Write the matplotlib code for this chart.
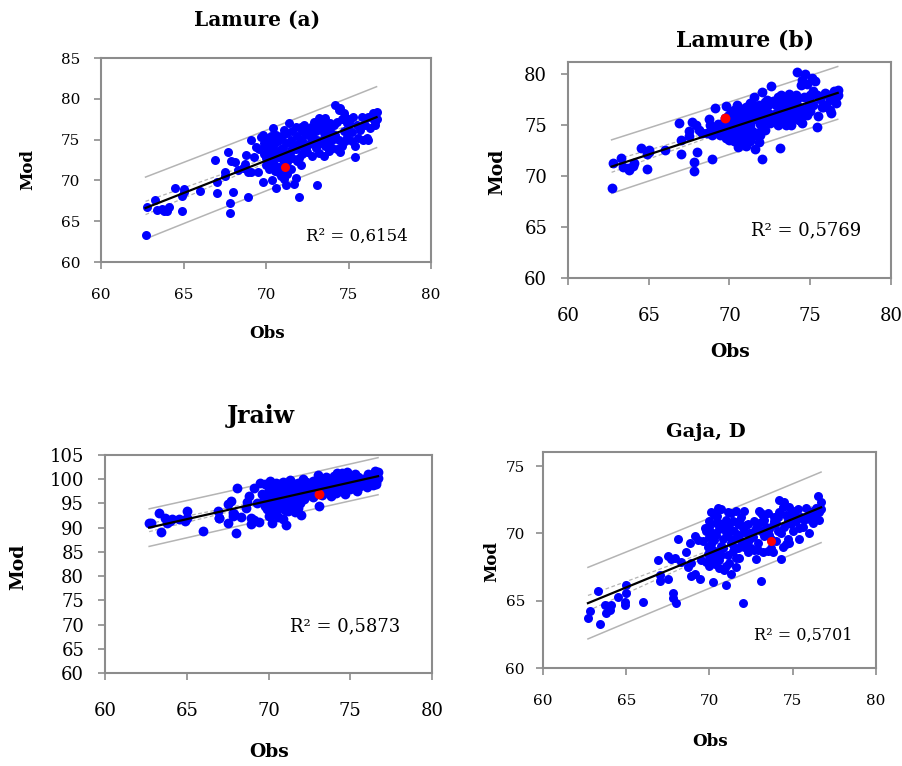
import numpy as np
import matplotlib
matplotlib.use("Agg")
import matplotlib.pyplot as plt

plt.rcParams['font.family'] = 'DejaVu Serif'

# observed values (shared by the four panels)
obs = [62.7, 62.8, 63.3, 63.4, 63.7, 63.8, 64.0, 64.1, 64.5, 64.9, 64.9, 65.0, 65.0, 66.0,
       66.9, 67.0, 67.0, 67.5, 67.5, 67.7, 67.8, 67.8, 68.0, 67.9, 68.1, 68.3, 68.6, 68.7,
       68.8, 68.9, 68.9, 69.1, 69.1, 69.4, 69.3, 69.5,
       69.6, 69.7, 69.8, 69.8, 69.9, 69.9, 70.0, 70.0, 70.0, 70.1, 70.1, 70.2, 70.2, 70.2,
       70.3, 70.3, 70.35, 70.4, 70.4, 70.45, 70.5, 70.5, 70.55, 70.6, 70.6, 70.7, 70.7, 70.8,
       70.8, 70.9, 70.9, 71.0, 71.0, 71.0, 71.1, 71.1, 71.2, 71.2, 71.3, 71.3, 71.4, 71.4,
       71.5, 71.5, 71.6, 71.6, 71.7, 71.7, 71.8, 71.8, 71.9, 71.9, 72.0, 72.0, 72.1, 72.1,
       72.2, 72.2, 72.3, 72.3, 72.4, 72.5,
       72.6, 72.6, 72.7, 72.8, 72.8, 72.9, 73.0, 73.0, 73.1, 73.1, 73.2, 73.2, 73.3, 73.3,
       73.4, 73.5, 73.5, 73.6, 73.6, 73.7, 73.8, 73.8, 73.9, 74.0, 74.0, 74.1, 74.2, 74.2,
       74.3, 74.4, 74.4, 74.5, 74.5, 74.6, 74.7, 74.7, 74.8, 74.8, 74.9, 75.0, 75.0, 75.1,
       75.2, 75.3, 75.4, 75.4, 75.5, 75.6, 75.8, 75.9, 76.0, 76.1, 76.2, 76.3, 76.4, 76.5,
       76.6, 76.7, 76.7,
       70.0, 70.1, 70.3, 70.4, 70.6, 70.7, 70.9, 71.0, 71.1, 71.3, 71.5, 71.6, 71.8, 72.0,
       72.2, 72.4, 72.7, 72.9, 73.1, 73.4, 73.7, 73.9, 74.1, 74.3, 74.6, 74.9, 75.2, 75.7,
       76.2, 76.6]

# modelled values, Lamure (a)
mod_a = [63.3, 66.8, 67.6, 66.4, 66.5, 66.2, 66.3, 66.8, 69.1, 68.1, 66.2, 68.9, 68.6, 68.7,
         72.5, 69.8, 68.4, 71.0, 70.6, 73.5, 67.2, 66.0, 68.6, 72.4, 72.2, 71.3, 71.5, 72.0,
         73.1, 68.0, 71.0, 74.9, 71.0, 74.1, 72.9, 71.0,
         73.8, 75.3, 69.8, 75.6, 74.6, 73.2, 72.8, 74.2, 71.9, 75.2, 73.5, 72.3, 74.8, 71.4,
         73.9, 72.6, 70.0, 75.0, 73.0, 76.4, 72.0, 74.4, 71.2, 69.1, 73.6, 72.9, 74.8, 71.6,
         73.3, 75.2, 70.6, 72.5, 74.0, 75.6, 70.2, 73.4, 69.4, 74.6, 72.2, 75.8, 77.0, 73.1,
         71.4, 74.9, 72.7, 76.0, 69.6, 74.3, 70.3, 73.8, 75.4, 72.4, 68.0, 74.6, 71.9, 76.5,
         73.2, 75.0, 76.8, 74.0, 75.7, 73.5,
         76.2, 74.4, 76.6, 73.0, 75.5, 77.2, 74.0, 76.0, 69.4, 75.0, 77.6, 73.3, 76.4, 74.6,
         77.2, 73.0, 75.8, 77.6, 74.2, 76.6, 73.6, 75.4, 77.0, 74.0, 75.0, 76.8, 79.2, 75.6,
         73.8, 78.6, 75.0, 78.9, 73.5, 77.5, 78.2, 76.0, 74.8, 77.8, 75.3, 77.0, 76.2, 77.5,
         75.9, 77.8, 72.9, 74.2, 76.8, 75.2, 77.8, 75.0, 76.8, 75.2, 74.9, 76.4, 77.6, 78.2,
         77.2, 78.4, 77.5,
         74.8, 72.0, 75.5, 71.8, 75.6, 71.0, 73.9, 71.2, 76.2, 70.8, 73.6, 74.0, 76.6, 72.8,
         76.0, 73.8, 75.2, 74.6, 76.8, 75.0, 74.6, 76.0, 75.4, 77.2, 74.2, 77.0, 74.8, 76.2,
         77.8, 76.8]

# modelled values, Lamure (b)
mod_b = [68.8, 71.3, 71.8, 70.9, 70.8, 70.6, 71.0, 71.3, 72.8, 72.2, 70.7, 72.6, 72.4, 72.6,
         75.2, 73.5, 72.2, 73.9, 74.4, 75.3, 71.4, 70.5, 72.4, 75.0, 74.5, 74.2, 74.2, 75.6,
         75.0, 71.7, 74.0, 76.7, 74.6, 74.0, 75.1, 74.5,
         75.2, 75.7, 73.7, 76.9, 75.9, 74.2, 75.5, 74.6, 73.5, 76.3, 74.9, 73.9, 75.8, 74.4,
         76.5, 73.4, 74.2, 75.1, 76.0, 77.0, 74.7, 75.4, 72.9, 74.0, 76.7, 75.0, 73.6, 74.5,
         76.2, 75.6, 73.2, 74.8, 73.0, 76.8, 74.1, 75.3, 73.8, 76.4, 75.0, 77.2, 76.0, 74.4,
         77.8, 75.6, 72.7, 76.9, 74.2, 75.8, 73.3, 76.5, 75.1, 74.0, 71.7, 78.3, 75.4, 76.7,
         74.5, 77.3, 75.9, 77.5, 76.2, 75.2,
         78.8, 76.0, 75.5, 77.4, 76.1, 77.0, 75.0, 77.8, 72.8, 76.5, 78.0, 75.3, 77.1, 75.8,
         76.4, 75.0, 77.6, 76.8, 75.6, 78.1, 75.0, 76.2, 77.4, 75.8, 77.0, 76.4, 80.2, 77.6,
         75.5, 78.9, 76.3, 79.4, 75.2, 77.8, 80.0, 76.6, 76.0, 79.0, 77.2, 78.0, 76.4, 79.6,
         77.0, 79.3, 74.8, 78.0, 75.9, 77.6, 76.8, 78.2, 77.0, 78.0, 76.5, 76.2, 77.5, 78.4,
         77.8, 78.5, 78.0,
         76.0, 74.0, 75.6, 73.8, 76.2, 74.6, 75.0, 73.6, 76.0, 73.4, 76.5, 74.0, 77.0, 74.8,
         76.0, 77.0, 77.4, 75.4, 77.4, 76.0, 77.0, 75.6, 78.0, 76.8, 76.0, 77.6, 78.4, 76.8,
         77.6, 77.2]

# modelled values, Jraiw
mod_c = [91.0, 90.9, 93.1, 89.1, 92.0, 91.0, 91.3, 91.7, 91.7, 91.5, 91.4, 93.4, 92.0, 89.4,
         93.4, 92.0, 91.9, 90.9, 94.8, 95.5, 92.4, 93.1, 88.8, 92.8, 98.1, 92.2, 94.1, 95.3,
         96.5, 90.7, 92.0, 98.1, 91.5, 91.2, 95.0, 99.3,
         97.0, 96.2, 94.5, 99.0, 95.8, 93.8, 96.8, 97.6, 92.4, 99.6, 95.2, 90.9, 98.4, 94.0,
         97.2, 95.0, 93.0, 98.8, 96.0, 99.2, 94.5, 97.8, 93.6, 92.2, 96.6, 95.4, 98.2, 96.8,
         94.8, 99.4, 91.7, 96.3, 97.5, 98.6, 90.5, 95.6, 93.4, 98.0, 96.9, 99.8, 97.3, 94.3,
         95.8, 98.5, 93.2, 99.0, 96.2, 97.7, 94.0, 98.9, 96.5, 95.1, 92.7, 99.2, 97.0, 100.0,
         96.0, 98.3, 97.4, 99.5, 96.8, 98.0,
         97.6, 98.8, 96.4, 99.0, 97.2, 98.4, 100.8, 97.9, 94.4, 98.6, 99.3, 97.0, 98.0, 96.8,
         99.9, 98.2, 100.4, 97.4, 99.1, 97.8, 96.6, 98.5, 99.6, 98.0, 100.6, 97.2, 101.3, 99.0,
         98.3, 100.0, 97.6, 101.2, 98.8, 99.7, 100.5, 97.0, 98.4, 101.5, 99.4, 100.8, 98.0, 99.0,
         100.2, 101.0, 97.6, 99.6, 100.4, 98.6, 100.0, 99.2, 98.4, 101.1, 99.8, 100.6, 98.9, 101.6,
         99.4, 101.4, 100.2,
         98.0, 94.2, 99.0, 92.8, 97.2, 95.0, 98.0, 93.6, 99.0, 94.6, 97.0, 95.4, 99.3, 96.4,
         98.8, 97.6, 99.6, 97.4, 98.4, 98.6, 99.4, 97.0, 98.8, 100.2, 98.0, 100.6, 98.6, 99.0,
         100.0, 99.0]

# modelled values, Gaja, D
mod_d = [63.7, 64.25, 65.7, 63.3, 64.7, 64.1, 64.3, 64.7, 65.3, 64.9, 64.7, 66.2, 65.6, 64.9,
         68.0, 66.9, 66.5, 68.3, 66.6, 68.1, 65.6, 65.2, 64.8, 68.2, 69.6, 67.9, 68.6, 67.5,
         69.3, 66.8, 67.8, 69.8, 67.0, 66.6, 69.5, 68.0,
         69.4, 70.4, 67.9, 70.2, 69.0, 68.5, 69.7, 70.5, 67.6, 71.6, 69.2, 66.4, 70.0, 68.8,
         69.5, 68.3, 67.7, 70.8, 69.9, 71.3, 68.6, 71.9, 68.0, 67.4, 70.3, 69.1, 71.8, 69.6,
         68.9, 70.6, 67.3, 66.2, 70.1, 71.0, 68.4, 69.8, 67.8, 70.5, 69.3, 71.5, 70.9, 68.7,
         69.6, 70.2, 67.5, 71.7, 68.9, 70.7, 68.2, 69.9, 71.2, 69.4, 64.8, 70.4, 71.7, 69.0,
         70.0, 69.2, 68.6, 70.7, 69.5, 68.9,
         70.1, 69.7, 68.8, 68.1, 70.4, 69.3, 71.7, 70.8, 66.5, 70.2, 71.3, 68.6, 69.8, 71.0,
         70.5, 68.7, 71.5, 69.9, 70.3, 68.9, 68.6, 70.6, 71.2, 69.4, 70.8, 70.2, 72.5, 71.6,
         68.1, 72.0, 69.0, 72.3, 70.5, 71.4, 71.0, 69.6, 69.3, 72.0, 70.7, 71.7, 70.2, 71.0,
         70.9, 71.8, 69.6, 70.4, 71.2, 70.5, 71.9, 71.3, 70.0, 71.0, 70.8, 71.4, 71.9, 72.8,
         71.6, 72.3, 71.8,
         70.9, 68.0, 71.4, 67.9, 70.8, 68.4, 70.4, 67.6, 71.6, 67.0, 69.0, 68.2, 70.9, 69.2,
         70.6, 70.0, 70.9, 68.8, 71.5, 70.0, 69.6, 70.9, 71.2, 70.0, 69.2, 71.5, 71.2, 71.0,
         71.7, 71.0]

# highlighted (red) station in each panel
hl_a = (71.15, 71.6)
hl_b = (69.75, 75.7)
hl_c = (73.1, 97.0)
hl_d = (73.7, 69.45)

titles = ["Lamure (a)", "Lamure (b)", "Jraiw", "Gaja, D"]
r2_labels = ["R² = 0,6154", "R² = 0,5769", "R² = 0,5873", "R² = 0,5701"]

W, H = 903, 766
fig = plt.figure(figsize=(W / 100, H / 100), dpi=100)


def px_axes(l, t, r, b):
    return [l / W, 1 - b / H, (r - l) / W, (b - t) / H]


def ftext(x, y, s, **kw):
    fig.text(x / W, 1 - y / H, s, ha='center', va='center', **kw)


def panel(rect, mod, hl, ylim, yticks, fs, ms):
    ax = fig.add_axes(px_axes(*rect))
    x = np.array(obs)
    y = np.array(mod)
    ax.scatter(x, y, s=ms, color='#0000ff', zorder=3, linewidths=0)
    ax.scatter([hl[0]], [hl[1]], s=ms, color='#ff0000', zorder=4, linewidths=0)

    # linear trend with confidence / prediction bands
    b1, b0 = np.polyfit(x, y, 1)
    n = len(x)
    res = y - (b0 + b1 * x)
    s = np.sqrt(np.sum(res ** 2) / (n - 2))
    sxx = np.sum((x - x.mean()) ** 2)
    xl = np.linspace(x.min(), x.max(), 100)
    yl = b0 + b1 * xl
    conf = 1.97 * s * np.sqrt(1 / n + (xl - x.mean()) ** 2 / sxx)
    pred = 1.97 * s * np.sqrt(1 + 1 / n + (xl - x.mean()) ** 2 / sxx)
    for sign in (1, -1):
        ax.plot(xl, yl + sign * pred, color='#b4b4b4', lw=1.1, zorder=2)
        ax.plot(xl, yl + sign * conf, color='#b4b4b4', lw=0.9, ls=(0, (3, 2)), zorder=2)
    ax.plot(xl, yl, color='black', lw=1.6, zorder=5)

    ax.set_xlim(60, 80)
    ax.set_ylim(*ylim)
    ax.set_xticks([60, 65, 70, 75, 80])
    ax.set_yticks(yticks)
    for sp in ax.spines.values():
        sp.set_color('#8c8c8c')
        sp.set_linewidth(1.5)
    ax.tick_params(direction='out', length=5, width=1.2, color='#8c8c8c',
                   labelsize=fs, labelcolor='black')
    return ax


ax_a = panel((101, 58, 431, 262), mod_a, hl_a, (60, 85), [60, 65, 70, 75, 80, 85], 11, 42)
ax_a.tick_params(axis='x', pad=14)
ax_a.tick_params(axis='y', pad=10)
ftext(257, 20, titles[0], fontsize=14.5, fontweight='bold')
ftext(28, 170, "Mod", fontsize=12, fontweight='bold', rotation=90)
ftext(267, 333, "Obs", fontsize=12, fontweight='bold')
ftext(357, 236, r2_labels[0], fontsize=12)

ax_b = panel((568, 62, 891, 278), mod_b, hl_b, (60, 81.2), [60, 65, 70, 75, 80], 13, 50)
ax_b.tick_params(axis='x', pad=16)
ax_b.tick_params(axis='y', pad=10)
ftext(745, 40, titles[1], fontsize=15.8, fontweight='bold')
ftext(497, 172, "Mod", fontsize=13.5, fontweight='bold', rotation=90)
ftext(730, 352, "Obs", fontsize=13.5, fontweight='bold')
ftext(806, 230, r2_labels[1], fontsize=13)

ax_c = panel((105, 455, 432, 673), mod_c, hl_c, (60, 105),
             [60, 65, 70, 75, 80, 85, 90, 95, 100, 105], 13, 50)
ax_c.tick_params(axis='x', pad=16)
ax_c.tick_params(axis='y', pad=10)
ftext(261, 416, titles[2], fontsize=17, fontweight='bold')
ftext(18, 567, "Mod", fontsize=13.5, fontweight='bold', rotation=90)
ftext(269, 752, "Obs", fontsize=13.5, fontweight='bold')
ftext(345, 626, r2_labels[2], fontsize=13)

ax_d = panel((543, 452, 876, 668), mod_d, hl_d, (60, 76.05), [60, 65, 70, 75], 11, 42)
ax_d.tick_params(axis='x', pad=14)
ax_d.tick_params(axis='y', pad=8)
ftext(706, 432, titles[3], fontsize=14, fontweight='bold')
ftext(492, 562, "Mod", fontsize=12, fontweight='bold', rotation=90)
ftext(710, 741, "Obs", fontsize=12, fontweight='bold')
ftext(803, 635, r2_labels[3], fontsize=11.5)

fig.savefig("out.png", dpi=100)
